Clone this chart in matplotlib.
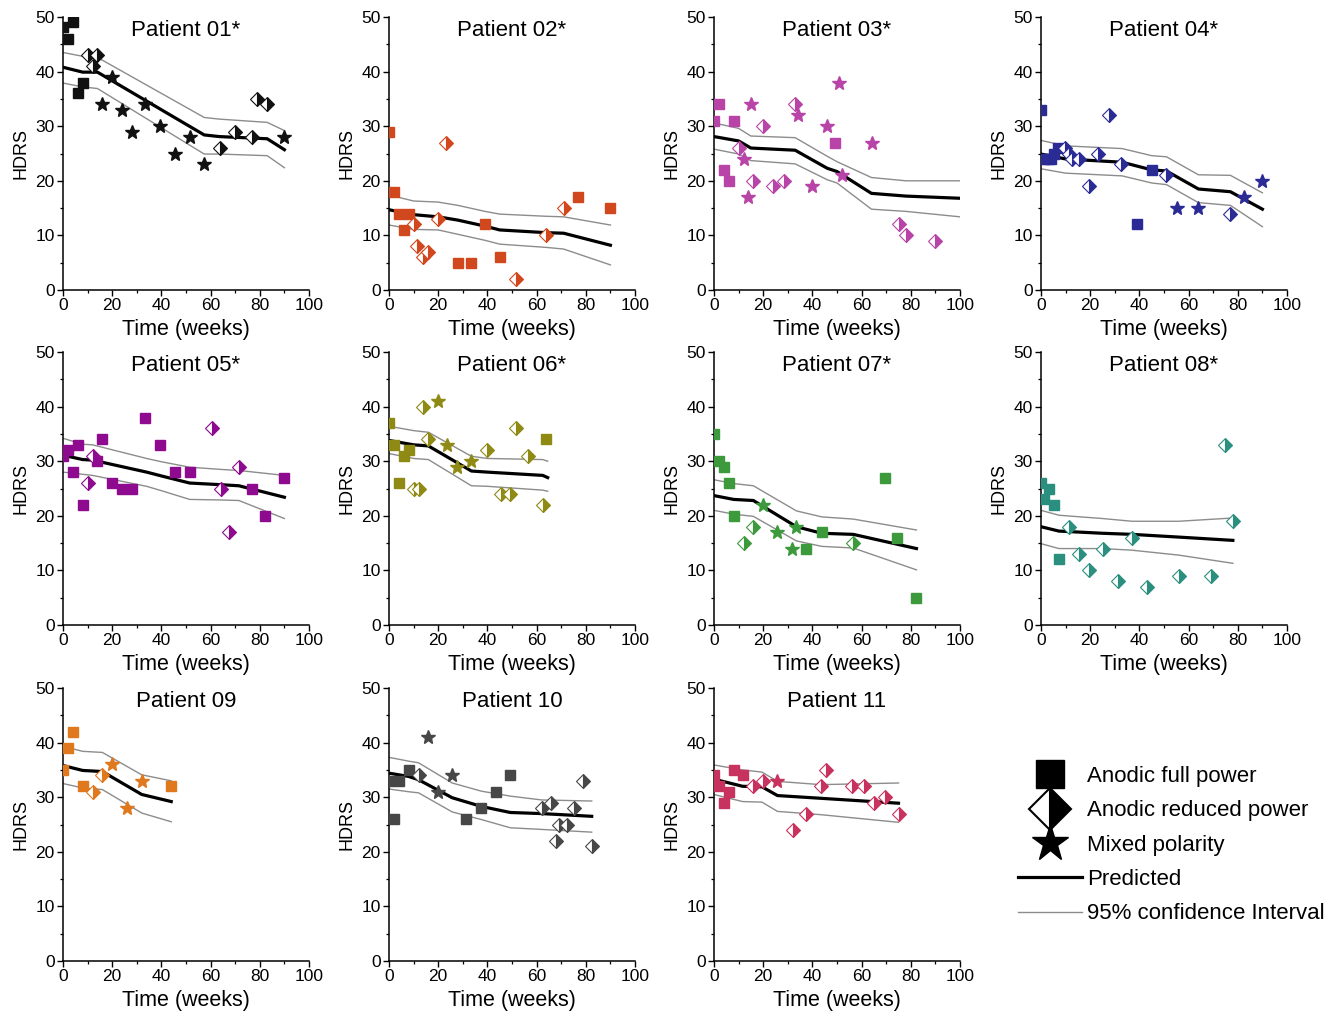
import matplotlib
matplotlib.use("Agg")
import matplotlib.pyplot as plt
from matplotlib.lines import Line2D

plt.rcParams["font.family"] = ["Liberation Sans", "DejaVu Sans"]

# --- 観測値 (week, HDRS) : 刺激モードごと ---
P01_FULL = [(0, 48.2), (2, 46), (4, 49), (6, 36), (8, 38)]
P01_REDUCED = [(10, 43), (14, 43), (12, 41), (70, 29), (64, 26), (79, 35), (83, 34), (77, 28)]
P01_MIXED = [(20, 39), (16, 34), (24, 33), (28, 29), (33.5, 34), (39.6, 30), (45.5, 25),
             (51.5, 28), (57.4, 23), (90, 28)]
P01_T = [0, 8, 14, 57.4, 63.5, 83, 90]
P01_PRED = [40.8, 39.9, 39.9, 28.4, 28.1, 27.7, 25.7]
P01_UPPER = [43.5, 42.8, 42.6, 31.6, 31.3, 30.7, 29.2]
P01_LOWER = [37.9, 37.2, 36.9, 24.9, 24.9, 24.6, 22.4]

P02_FULL = [(0, 29), (2, 18), (4, 14), (6, 11), (8, 14), (28, 5), (33.5, 5), (39, 12),
            (45, 6), (77, 17), (90, 15)]
P02_REDUCED = [(23, 27), (10, 12), (11.5, 8), (14, 6), (16, 7), (20, 13), (51.5, 2),
               (64, 10), (71, 15)]
P02_MIXED = []
P02_T = [0, 10, 20, 28, 39, 45, 64, 71, 90]
P02_PRED = [14.7, 13.8, 13.4, 12.8, 11.7, 11.0, 10.5, 10.4, 8.2]
P02_UPPER = [17.4, 16.3, 16.1, 15.5, 14.4, 13.9, 13.5, 13.4, 11.9]
P02_LOWER = [11.9, 11.1, 11.0, 10.2, 9.1, 8.4, 7.8, 7.5, 4.6]

P03_FULL = [(0, 31), (2, 34), (4, 22), (6, 20), (8, 31), (49, 27)]
P03_REDUCED = [(10, 26), (20, 30), (33, 34), (16, 20), (24, 19), (28.5, 20), (75.4, 12),
               (78, 10), (90, 9)]
P03_MIXED = [(15, 34), (12, 24), (14, 17), (34, 32), (40, 19), (46, 30), (50.8, 38),
             (52, 21), (64.3, 27)]
P03_T = [0, 10, 15, 33, 46, 50, 64, 78, 100]
P03_PRED = [28.1, 27.3, 26.0, 25.6, 22.3, 21.7, 17.7, 17.2, 16.8]
P03_UPPER = [30.6, 29.6, 28.2, 27.9, 24.5, 23.5, 20.6, 20.0, 20.0]
P03_LOWER = [25.8, 24.9, 23.7, 23.1, 20.2, 19.6, 14.8, 14.4, 13.4]

P04_FULL = [(0, 33), (1.4, 24), (3, 24), (4, 24), (5.4, 25), (6.8, 26), (39, 12), (45, 22)]
P04_REDUCED = [(9.7, 26), (11.4, 25), (12.7, 24), (15.4, 24), (19.5, 19), (27.6, 32),
               (23, 25), (32.7, 23), (51, 21), (77, 14)]
P04_MIXED = [(55.4, 15), (63.8, 15), (82.7, 17), (89.7, 20)]
P04_T = [0, 10, 33, 45, 51, 64, 77, 90]
P04_PRED = [24.9, 24.0, 23.4, 22.0, 21.8, 18.5, 18.0, 14.8]
P04_UPPER = [27.4, 26.4, 25.9, 24.6, 24.4, 21.1, 21.0, 17.8]
P04_LOWER = [22.2, 21.4, 20.9, 19.6, 19.3, 16.0, 15.5, 11.6]

P05_FULL = [(0, 31), (2, 32), (4, 28), (6, 33), (8, 22), (16, 34), (14, 30), (20, 26),
            (24, 25), (28, 25), (33.5, 38), (39.5, 33), (45.5, 28), (51.5, 28), (77, 25),
            (82, 20), (90, 27)]
P05_REDUCED = [(12, 31), (10, 26), (60.4, 36), (64.3, 25), (67.6, 17), (71.4, 29)]
P05_MIXED = []
P05_T = [0, 8, 12, 34, 40, 51.5, 64, 71.5, 90]
P05_PRED = [31.1, 30.3, 30.2, 28.0, 27.3, 26.0, 25.7, 25.5, 23.4]
P05_UPPER = [34.2, 33.1, 33.0, 30.5, 29.9, 28.9, 28.5, 28.3, 27.4]
P05_LOWER = [28.0, 27.6, 27.4, 25.4, 24.6, 23.0, 22.9, 22.8, 19.5]

P06_FULL = [(0, 37), (2, 33), (4, 26), (6, 31), (8, 32), (64, 34)]
P06_REDUCED = [(14, 40), (16, 34), (10, 25), (12, 25), (40, 32), (45.4, 24), (49.3, 24),
               (51.5, 36), (56.5, 31), (62.6, 22)]
P06_MIXED = [(20, 41), (23.6, 33), (27.6, 29), (33.5, 30)]
P06_T = [0, 10, 16, 33.5, 40, 62.5, 64.5]
P06_PRED = [33.8, 33.0, 32.8, 28.2, 28.0, 27.4, 27.0]
P06_UPPER = [36.4, 35.6, 35.3, 30.9, 30.5, 30.3, 30.0]
P06_LOWER = [31.4, 30.5, 30.3, 25.5, 25.4, 24.7, 24.5]

P07_FULL = [(0, 35), (2, 30), (4, 29), (6, 26), (8, 20), (37.6, 14), (43.8, 17),
            (69.6, 27), (74.5, 16), (82.3, 5)]
P07_REDUCED = [(15.7, 18), (12, 15), (56.6, 15)]
P07_MIXED = [(20, 22), (25.8, 17), (31.6, 14), (33.5, 18)]
P07_T = [0, 8, 16, 33.5, 43.8, 56.6, 82.3]
P07_PRED = [23.7, 23.0, 22.8, 18.0, 16.8, 16.6, 14.0]
P07_UPPER = [26.6, 25.9, 25.5, 20.9, 19.8, 19.4, 17.4]
P07_LOWER = [21.0, 20.3, 19.9, 15.4, 14.4, 14.1, 10.1]

P08_FULL = [(0, 26), (1.4, 23), (3.4, 25), (5.4, 22), (7.3, 12)]
P08_REDUCED = [(11.4, 18), (15.4, 13), (19.5, 10), (25.3, 14), (31.4, 8), (37, 16),
               (43.2, 7), (56, 9), (69, 9), (74.6, 33), (78, 19)]
P08_MIXED = []
P08_T = [0, 7.3, 25, 37, 56, 78]
P08_PRED = [18.0, 17.2, 16.8, 16.6, 16.1, 15.5]
P08_UPPER = [21.0, 20.1, 19.5, 19.0, 19.0, 19.6]
P08_LOWER = [14.9, 14.0, 14.0, 13.7, 12.8, 11.3]

P09_FULL = [(0, 35), (2, 39), (4, 42), (8, 32), (44, 32)]
P09_REDUCED = [(12, 31), (16, 34)]
P09_MIXED = [(20, 36), (26, 28), (32, 33)]
P09_T = [0, 8, 16, 32, 44]
P09_PRED = [35.8, 34.9, 34.7, 30.5, 29.2]
P09_UPPER = [39.3, 38.4, 38.2, 34.1, 33.0]
P09_LOWER = [32.5, 31.7, 31.4, 27.1, 25.5]

P10_FULL = [(0, 33), (2, 26), (4, 33), (8, 35), (31.5, 26), (37.6, 28), (43.4, 31), (49.3, 34)]
P10_REDUCED = [(12, 34), (62, 28), (66, 29), (68, 22), (69.3, 25), (72.4, 25), (75, 28),
               (79, 33), (82.4, 21)]
P10_MIXED = [(16, 41), (20, 31), (25.7, 34)]
P10_T = [0, 8, 12, 25.7, 37.6, 49.3, 62, 82.4]
P10_PRED = [34.4, 33.8, 33.2, 29.9, 28.3, 27.2, 27.0, 26.5]
P10_UPPER = [37.3, 36.6, 36.3, 32.6, 31.1, 30.2, 29.5, 29.3]
P10_LOWER = [31.5, 31.0, 30.8, 27.3, 25.9, 24.4, 24.1, 23.6]

P11_FULL = [(0, 34), (2, 32), (4, 29), (6, 31), (8, 35), (11.6, 34)]
P11_REDUCED = [(16, 32), (20, 33), (32, 24), (37.6, 27), (43.4, 32), (45.4, 35), (56, 32),
               (61, 32), (65, 29), (69.5, 30), (75, 27)]
P11_MIXED = [(25.8, 33)]
P11_T = [0, 11.6, 19.5, 25.8, 43.4, 75]
P11_PRED = [33.3, 32.0, 31.9, 30.3, 29.8, 28.9]
P11_UPPER = [35.9, 35.0, 34.6, 32.9, 32.3, 32.6]
P11_LOWER = [30.5, 29.2, 29.1, 27.4, 26.8, 25.4]

TITLES = ["Patient 01*", "Patient 02*", "Patient 03*", "Patient 04*",
          "Patient 05*", "Patient 06*", "Patient 07*", "Patient 08*",
          "Patient 09", "Patient 10", "Patient 11"]
COLORS = ["#111111", "#d2481e", "#b844a8", "#2b2b96",
          "#8e0a8e", "#8f8a14", "#3c9a3c", "#2a8f7f",
          "#e0781e", "#474747", "#c8325e"]

PATIENTS = [
    (P01_FULL, P01_REDUCED, P01_MIXED, P01_T, P01_PRED, P01_UPPER, P01_LOWER),
    (P02_FULL, P02_REDUCED, P02_MIXED, P02_T, P02_PRED, P02_UPPER, P02_LOWER),
    (P03_FULL, P03_REDUCED, P03_MIXED, P03_T, P03_PRED, P03_UPPER, P03_LOWER),
    (P04_FULL, P04_REDUCED, P04_MIXED, P04_T, P04_PRED, P04_UPPER, P04_LOWER),
    (P05_FULL, P05_REDUCED, P05_MIXED, P05_T, P05_PRED, P05_UPPER, P05_LOWER),
    (P06_FULL, P06_REDUCED, P06_MIXED, P06_T, P06_PRED, P06_UPPER, P06_LOWER),
    (P07_FULL, P07_REDUCED, P07_MIXED, P07_T, P07_PRED, P07_UPPER, P07_LOWER),
    (P08_FULL, P08_REDUCED, P08_MIXED, P08_T, P08_PRED, P08_UPPER, P08_LOWER),
    (P09_FULL, P09_REDUCED, P09_MIXED, P09_T, P09_PRED, P09_UPPER, P09_LOWER),
    (P10_FULL, P10_REDUCED, P10_MIXED, P10_T, P10_PRED, P10_UPPER, P10_LOWER),
    (P11_FULL, P11_REDUCED, P11_MIXED, P11_T, P11_PRED, P11_UPPER, P11_LOWER),
]

W, H = 1338, 1015
fig = plt.figure(figsize=(W / 100, H / 100), dpi=100)

# 軸の位置 (px)
COL_LEFT = [63, 389, 714, 1041]
ROW_TOP = [17, 352, 688]
AX_W, AX_H = 246, 273

CI_COLOR = "#8c8c8c"


def scatter(ax, pts, **kw):
    if not pts:
        return
    xs = [p[0] for p in pts]
    ys = [p[1] for p in pts]
    ax.plot(xs, ys, ls="none", **kw)


for i, (full, reduced, mixed, t, pred, up, lo) in enumerate(PATIENTS):
    r, c = divmod(i, 4)
    left = COL_LEFT[c] / W
    bottom = 1 - (ROW_TOP[r] + AX_H) / H
    ax = fig.add_axes([left, bottom, AX_W / W, AX_H / H])
    color = COLORS[i]

    ax.plot(t, up, color=CI_COLOR, lw=1.0, zorder=2)
    ax.plot(t, lo, color=CI_COLOR, lw=1.0, zorder=2)
    ax.plot(t, pred, color="black", lw=2.3, zorder=3)

    scatter(ax, full, marker="s", ms=6.5, color=color, mec=color, zorder=4)
    scatter(ax, reduced, marker="D", ms=7.5, fillstyle="right", markerfacecolor=color,
            markerfacecoloralt="white", markeredgecolor=color, mew=0.8, zorder=4)
    scatter(ax, mixed, marker="*", ms=10, color=color, mec=color, zorder=4)

    ax.set_xlim(0, 100)
    ax.set_ylim(0, 50)
    ax.set_xticks(range(0, 101, 20))
    ax.set_xticks(range(10, 100, 20), minor=True)
    ax.set_yticks(range(0, 51, 10))
    ax.set_yticks(range(5, 50, 10), minor=True)
    ax.spines["top"].set_visible(False)
    ax.spines["right"].set_visible(False)
    for s in ("left", "bottom"):
        ax.spines[s].set_linewidth(1.1)
    ax.tick_params(which="major", direction="out", length=4.5, width=1.0,
                   labelsize=12.5, pad=1.5)
    ax.tick_params(which="minor", direction="out", length=2.5, width=0.9)
    ax.set_xlabel("Time (weeks)", fontsize=15.5, labelpad=4)
    ax.set_ylabel("HDRS", fontsize=13, labelpad=4)
    ax.text(0.5, 0.988, TITLES[i], transform=ax.transAxes, ha="center", va="top",
            fontsize=16)

# 凡例
handles = [
    Line2D([], [], ls="none", marker="s", ms=20, color="black"),
    Line2D([], [], ls="none", marker="D", ms=21, fillstyle="right", markerfacecolor="black",
           markerfacecoloralt="white", markeredgecolor="black", mew=1.5),
    Line2D([], [], ls="none", marker="*", ms=28, color="black"),
    Line2D([], [], color="black", lw=2.3),
    Line2D([], [], color=CI_COLOR, lw=1.0),
]
labels = ["Anodic full power", "Anodic reduced power", "Mixed polarity",
          "Predicted", "95% confidence Interval"]
fig.legend(handles, labels, loc="upper left", bbox_to_anchor=(1018 / W, 1 - 766 / H),
           frameon=False, borderpad=0, borderaxespad=0, handlelength=2.88,
           handletextpad=0.22, labelspacing=0.6, fontsize=16, numpoints=1)

fig.savefig("out.png", dpi=100)
